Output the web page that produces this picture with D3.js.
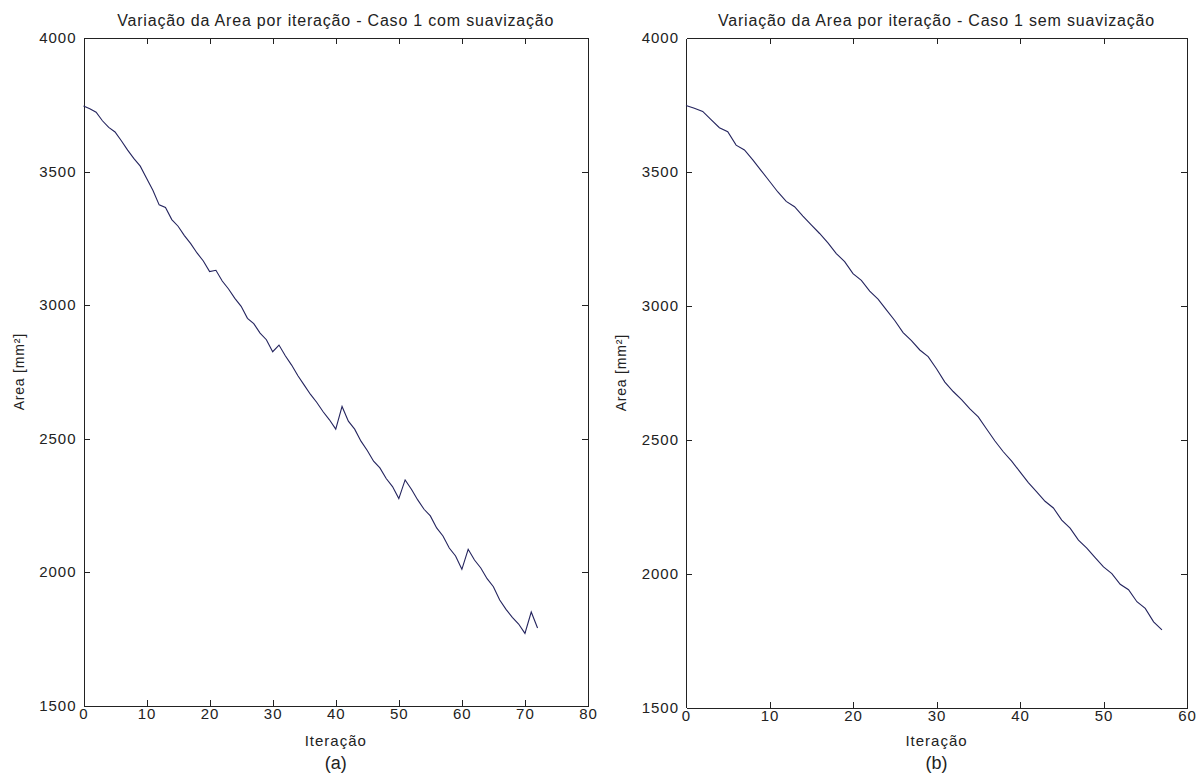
<!DOCTYPE html>
<html>
<head>
<meta charset="utf-8">
<script src="https://cdn.jsdelivr.net/npm/d3@7"></script>
<style>
  body { margin: 0; background: #fff; }
  svg text { font-family: "Liberation Sans", Arial, sans-serif; fill: #222; }
  .axis path, .axis line { stroke: #222; shape-rendering: crispEdges; }
  .axis text { font-size: 15px; letter-spacing: 1px; }
</style>
</head>
<body>
<svg id="fig" width="1198" height="776"></svg>
<script>
// ---- dados

// (a) com suavização
let iterA = d3.range(0, 73)
let areaA = [3745, 3735, 3722, 3690, 3665, 3648, 3615, 3580, 3548, 3520,
	3475, 3430, 3375, 3365, 3320, 3295, 3260, 3230, 3195, 3165,
	3125, 3130, 3090, 3060, 3025, 2995, 2950, 2930, 2895, 2870,
	2825, 2850, 2810, 2775, 2735, 2700, 2665, 2635, 2600, 2570,
	2535, 2620, 2565, 2535, 2490, 2455, 2415, 2390, 2350, 2320,
	2275, 2345, 2310, 2270, 2235, 2210, 2165, 2135, 2090, 2060,
	2010, 2085, 2045, 2015, 1975, 1945, 1895, 1860, 1830, 1805,
	1770, 1850, 1790]

// (b) sem suavização
let iterB = d3.range(0, 58)
let areaB = [3748, 3738, 3726, 3695, 3665, 3650, 3600, 3582, 3545, 3505,
	3465, 3425, 3390, 3370, 3335, 3302, 3270, 3235, 3195, 3165,
	3120, 3095, 3055, 3025, 2985, 2945, 2900, 2870, 2835, 2810,
	2765, 2715, 2680, 2650, 2615, 2585, 2540, 2495, 2455, 2420,
	2380, 2340, 2305, 2270, 2245, 2200, 2170, 2125, 2095, 2060,
	2025, 2000, 1960, 1940, 1895, 1870, 1820, 1790]

let yTicks = [1500, 2000, 2500, 3000, 3500, 4000]
let xTicksA = [0, 10, 20, 30, 40, 50, 60, 70, 80]
let xTicksB = [0, 10, 20, 30, 40, 50, 60]

let titleA = 'Variação da Area por iteração - Caso 1  com suavização'
let titleB = 'Variação da Area por iteração - Caso 1 sem suavização'

let svg = d3.select('#fig')

function drawPanel(p){
	let g = svg.append('g')

	let xScale = d3.scaleLinear()
		.domain([p.xTicks[0], p.xTicks[p.xTicks.length - 1]])
		.range([p.left, p.right])

	let yScale = d3.scaleLinear()
		.domain([1500, 4000])
		.range([p.bottom, p.top])

	// eixos estilo matlab: caixa fechada, ticks para dentro
	g.append('g').attr('class', 'axis')
		.attr('transform', `translate(0,${p.bottom})`)
		.call(d3.axisBottom(xScale).tickValues(p.xTicks).tickSizeInner(-6).tickSizeOuter(0).tickPadding(3).tickFormat(d3.format('d')))

	g.append('g').attr('class', 'axis')
		.attr('transform', `translate(0,${p.top})`)
		.call(d3.axisTop(xScale).tickValues(p.xTicks).tickSizeInner(-6).tickSizeOuter(0).tickFormat(''))

	g.append('g').attr('class', 'axis')
		.attr('transform', `translate(${p.left},0)`)
		.call(d3.axisLeft(yScale).tickValues(yTicks).tickSizeInner(-6).tickSizeOuter(0).tickPadding(7).tickFormat(d3.format('d')))

	g.append('g').attr('class', 'axis')
		.attr('transform', `translate(${p.right},0)`)
		.call(d3.axisRight(yScale).tickValues(yTicks).tickSizeInner(-6).tickSizeOuter(0).tickFormat(''))

	// tira os ticks que caem em cima da caixa
	g.selectAll('.tick line').filter(function(d){
		return d == p.xTicks[0] || d == p.xTicks[p.xTicks.length - 1] || d == 1500 || d == 4000
	}).remove()

	g.selectAll('.axis text').attr('fill', '#222')

	let lineGen = d3.line()
		.x((d, i) => xScale(p.iters[i]))
		.y(d => yScale(d))

	g.append('path')
		.datum(p.area)
		.attr('d', lineGen)
		.attr('fill', 'none')
		.attr('stroke', '#24245e')
		.attr('stroke-width', 1.1)

	let cx = (p.left + p.right) / 2

	g.append('text')
		.attr('x', cx)
		.attr('y', 26)
		.attr('text-anchor', 'middle')
		.style('font-size', '16px')
		.style('letter-spacing', '0.8px')
		.text(p.title)

	g.append('text')
		.attr('x', cx)
		.attr('y', 746)
		.attr('text-anchor', 'middle')
		.style('font-size', '15px')
		.style('letter-spacing', '1px')
		.text('Iteração')

	g.append('text')
		.attr('x', cx)
		.attr('y', 769)
		.attr('text-anchor', 'middle')
		.style('font-size', '18px')
		.text(p.tag)

	g.append('text')
		.attr('transform', `translate(${p.left - 60},${(p.top + p.bottom) / 2}) rotate(-90)`)
		.attr('text-anchor', 'middle')
		.style('font-size', '14px')
		.style('letter-spacing', '0.8px')
		.text('Area [mm²]')
}

drawPanel({left: 83.5, right: 588, top: 38, bottom: 705.5,
	iters: iterA, area: areaA, xTicks: xTicksA, title: titleA, tag: '(a)'})

drawPanel({left: 686, right: 1187, top: 38, bottom: 707.5,
	iters: iterB, area: areaB, xTicks: xTicksB, title: titleB, tag: '(b)'})
</script>
</body>
</html>
